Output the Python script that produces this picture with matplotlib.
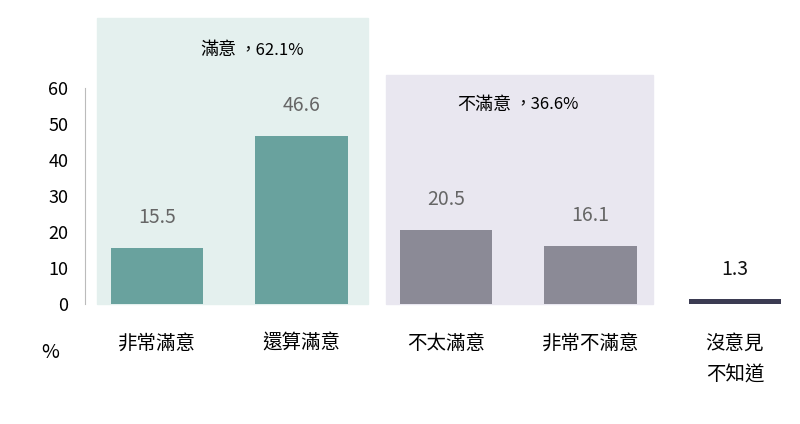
import matplotlib
matplotlib.use("Agg")
import matplotlib.pyplot as plt
from matplotlib.patches import Rectangle

plt.rcParams['font.family'] = ['Noto Sans CJK TC', 'DejaVu Sans']

categories = ['非常滿意', '還算滿意', '不太滿意', '非常不滿意', '沒意見\n不知道']
values = [15.5, 46.6, 20.5, 16.1, 1.3]
colors = ['#69a29e', '#69a29e', '#8b8a96', '#8b8a96', '#3b3b52']
label_colors = ['#666666', '#666666', '#666666', '#666666', '#111111']
yticks = [0, 10, 20, 30, 40, 50, 60]
group_labels = ['滿意，62.1%', '不滿意，36.6%']

fig = plt.figure(figsize=(8, 4.24), dpi=100)
ax = fig.add_axes([85/800, 1-304/424, 715/800, 216/424])
x = list(range(len(categories)))

ax.add_patch(Rectangle((-0.415, 0), 1.875, 79.4, color='#e4f0ee', clip_on=False, zorder=0))
ax.add_patch(Rectangle((1.585, 0), 1.845, 63.6, color='#e9e7f0', clip_on=False, zorder=0))
ax.text(0.55, 70.5, '滿意', fontsize=13, ha='right', va='center')
ax.text(0.57, 70.5, '，62.1%', fontsize=12, ha='left', va='center')
ax.text(2.45, 55.3, '不滿意', fontsize=13, ha='right', va='center')
ax.text(2.47, 55.3, '，36.6%', fontsize=12, ha='left', va='center')

ax.bar(x, values, width=0.64, color=colors, zorder=2)
for xi, v, c in zip(x, values, label_colors):
    ax.text(xi, v + 5.5, f'{v}', ha='center', va='bottom', fontsize=14, color=c)

ax.set_xlim(-0.5, 4.45)
ax.set_ylim(0, 60)
ax.set_yticks(yticks)
ax.tick_params(axis='y', length=0, labelsize=13, pad=12)
ax.set_xticks([])
for s in ['top', 'right', 'bottom']:
    ax.spines[s].set_visible(False)
ax.spines['left'].set_color('#bbbbbb')
for xi, c in zip(x, categories):
    ax.text(xi, -8, c, ha='center', va='top', fontsize=14, linespacing=1.7)
ax.text(-0.74, -10.5, '%', ha='center', va='top', fontsize=14)
ax.patch.set_alpha(0)

fig.savefig('out.png', dpi=100)
